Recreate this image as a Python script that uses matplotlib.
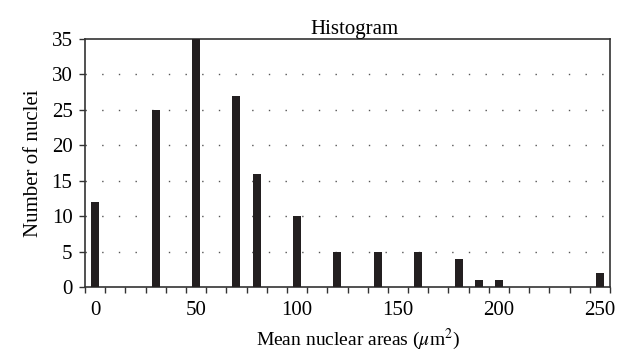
import numpy as np
import matplotlib.pyplot as plt

# bin centres (um^2) and counts
areas = [0, 30, 50, 70, 80, 100, 120, 140, 160, 180, 190, 200, 250]
counts = [12, 25, 35, 27, 16, 10, 5, 5, 5, 4, 1, 1, 2]
tick_values = [0, 50, 100, 150, 200, 250]

plt.rcParams['font.family'] = ['Liberation Serif', 'DejaVu Serif']
plt.rcParams['mathtext.fontset'] = 'stix'

fig = plt.figure(figsize=(6.22, 3.54), dpi=100)
ax = fig.add_axes([0.1367, 0.1893, 0.8440, 0.7005])

# category axis: one slot per 10 um^2
pos = np.array(areas) / 10
ax.bar(pos, counts, width=0.4, color='#231f20', zorder=3)

ax.set_xlim(-0.5, 25.5)
ax.set_ylim(0, 35)
ax.set_yticks(range(0, 36, 5))
ax.set_xticks(np.array(tick_values) / 10)
ax.set_xticklabels([str(v) for v in tick_values])
ax.set_xticks(np.arange(-0.5, 25.6, 1), minor=True)
ax.tick_params(axis='x', which='major', length=0, pad=10, labelsize=15)
ax.tick_params(axis='x', which='minor', length=4, width=1, direction='out', color='#333333')
ax.tick_params(axis='y', length=4, width=1, direction='out', labelsize=15, color='#333333', pad=5)

for y in range(5, 35, 5):
    ax.axhline(y, color='#555555', linewidth=1, linestyle=(0, (1, 11)), zorder=1)

for s in ax.spines.values():
    s.set_color('#333333')
    s.set_linewidth(1.2)

ax.set_title('Histogram', fontsize=15, pad=3, x=0.513)
ax.set_ylabel('Number of nuclei', fontsize=15, labelpad=6)
ax.set_xlabel(r'Mean nuclear areas ($\mu$m$^2$)', fontsize=14, labelpad=5, x=0.52)

fig.savefig('out.png', dpi=100)
